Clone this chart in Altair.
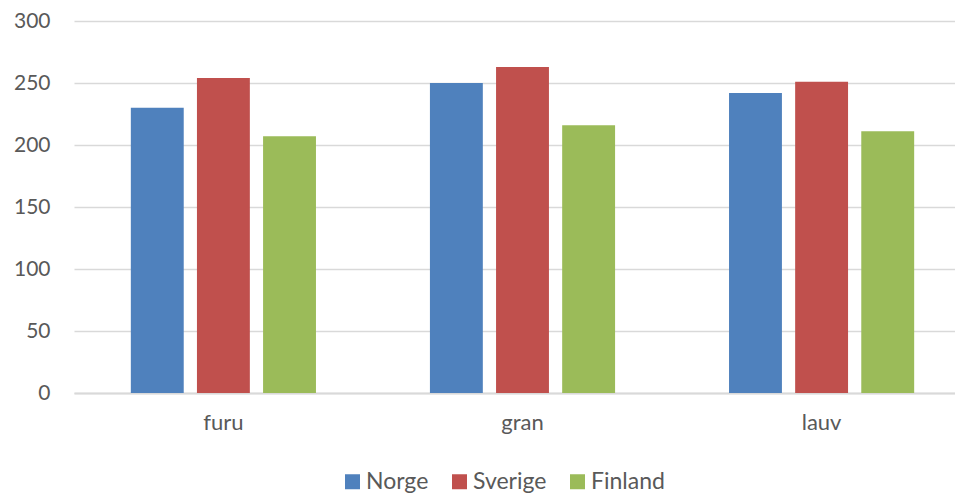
import altair as alt
import pandas as pd

categories = ["furu", "gran", "lauv"]
series = ["Norge", "Sverige", "Finland"]
norge = [230, 250, 242]
sverige = [254, 263, 251]
finland = [207, 216, 211]
colors = ["#4F81BD", "#C0504D", "#9BBB59"]

rows = []
for i, c in enumerate(categories):
    for s, vals in zip(series, [norge, sverige, finland]):
        rows.append({"kategori": c, "land": s, "verdi": vals[i]})
df = pd.DataFrame(rows)

FONT = "Lato"
TXT = "#595959"

chart = alt.Chart(df).mark_bar().encode(
    x=alt.X("kategori:N", sort=categories, title=None,
            scale=alt.Scale(range=[0, 897], paddingInner=0.381, paddingOuter=0.19),
            axis=alt.Axis(labelAngle=0, ticks=False, grid=False, domainColor="#d9d9d9",
                          domainWidth=2, labelFontSize=22, labelColor=TXT, labelFont=FONT,
                          labelPadding=19)),
    xOffset=alt.XOffset("land:N", sort=series,
                        scale=alt.Scale(paddingInner=0.2, paddingOuter=0)),
    y=alt.Y("verdi:Q", title=None,
            scale=alt.Scale(domain=[0, 300], nice=False),
            axis=alt.Axis(values=[0, 50, 100, 150, 200, 250, 300], ticks=False, domain=False,
                          gridColor="#d9d9d9", gridWidth=1.5, labelFontSize=21,
                          labelColor=TXT, labelFont=FONT, labelPadding=24)),
    color=alt.Color("land:N", sort=series,
                    scale=alt.Scale(domain=series, range=colors),
                    legend=alt.Legend(title=None, orient="none", direction="horizontal",
                                      legendX=267, legendY=449, symbolType="square",
                                      symbolSize=225, symbolStrokeWidth=0, symbolOpacity=1,
                                      labelFontSize=23, labelColor=TXT, labelFont=FONT,
                                      labelOffset=2, columnPadding=19)),
).properties(
    width=881, height=372,
    autosize=alt.AutoSizeParams(type="none"),
    padding={"left": 66, "top": 13, "right": 0, "bottom": 101},
).configure_view(stroke=None)

chart.save("out.html", embed_options={"renderer": "svg", "actions": False})
